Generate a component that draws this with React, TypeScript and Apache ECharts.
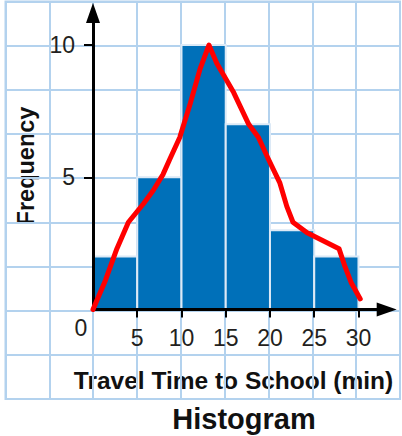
import React, { useEffect, useRef } from "react";
import * as echarts from "echarts";

// Histogram bins
const binStart = [0, 5, 10, 15, 20, 25];
const binEnd = [5, 10, 15, 20, 25, 30];
const frequency = [2, 5, 10, 7, 3, 2];

// Tick labels
const xTickValues = [5, 10, 15, 20, 25, 30];
const yTickValues = [5, 10];

// Hand-drawn red frequency polygon
const traceX = [0, 1.4, 2.7, 4.0, 5.7, 6.8, 7.9, 8.7, 9.8, 11.0, 12.1, 13.1, 14.0, 15.9, 17.6, 18.7, 19.8, 21.1, 21.9, 22.6, 24.2, 26.0, 27.8, 28.5, 29.2, 30.2];
const traceY = [0, 1.1, 2.3, 3.3, 4.0, 4.5, 5.1, 5.7, 6.5, 7.8, 9.1, 10.0, 9.3, 8.2, 7.0, 6.5, 5.7, 4.8, 3.9, 3.3, 2.9, 2.6, 2.3, 1.6, 1.0, 0.4];

const xTitle = "Travel Time to School (min)";
const yTitle = "Frequency";
const chartTitle = "Histogram";

const FONT = "'Liberation Sans', Arial, Helvetica, sans-serif";
const GRID_BLUE = "#b3d2ee";
const BAR_BLUE = "#0070b9";
const TEXT = "#231f20";

export default function App() {
  const ref = useRef<HTMLDivElement>(null);

  useEffect(() => {
    if (!ref.current) return;
    const chart = echarts.init(ref.current, undefined, { renderer: "svg" });

    const bars = binStart.map((s, i) => [s, binEnd[i], frequency[i]]);
    const trace = traceX.map((x, i) => [x, traceY[i]]);

    const option: any = {
      animation: false,
      backgroundColor: "#ffffff",
      grid: [
        {
          left: 5.5,
          top: 1.5,
          width: 394.5,
          height: 397.5,
          show: true,
          borderColor: GRID_BLUE,
          borderWidth: 2,
          backgroundColor: "transparent",
        },
        {
          left: 93,
          top: 13,
          right: 15.3,
          bottom: 126.5,
        },
      ],
      xAxis: [
        {
          type: "value",
          gridIndex: 0,
          min: 0,
          max: 9,
          interval: 1,
          axisLine: { show: false },
          axisTick: { show: false },
          axisLabel: { show: false },
          splitLine: { show: true, lineStyle: { color: GRID_BLUE, width: 2 } },
          z: 0,
        },
        {
          type: "value",
          gridIndex: 1,
          min: 0,
          max: 33.19,
          interval: 5,
          z: 5,
          axisLine: {
            show: true,
            lineStyle: { color: "#000", width: 3 },
            symbol: ["none", "triangle"],
            symbolSize: [14, 20],
          },
          axisTick: {
            show: true,
            customValues: xTickValues,
            length: 8,
            lineStyle: { color: "#000", width: 2 },
          },
          axisLabel: {
            show: true,
            customValues: xTickValues,
            margin: 17,
            fontSize: 23,
            fontFamily: FONT,
            color: TEXT,
          },
          splitLine: { show: false },
        },
      ],
      yAxis: [
        {
          type: "value",
          gridIndex: 0,
          min: 0,
          max: 9,
          interval: 1,
          axisLine: { show: false },
          axisTick: { show: false },
          axisLabel: { show: false },
          splitLine: { show: true, lineStyle: { color: GRID_BLUE, width: 2 } },
          z: 0,
        },
        {
          type: "value",
          gridIndex: 1,
          min: 0,
          max: 11.21,
          interval: 5,
          z: 5,
          axisLine: {
            show: true,
            lineStyle: { color: "#000", width: 3 },
            symbol: ["none", "triangle"],
            symbolSize: [14, 20],
          },
          axisTick: {
            show: true,
            customValues: yTickValues,
            length: 9,
            lineStyle: { color: "#000", width: 2 },
          },
          axisLabel: {
            show: true,
            customValues: yTickValues,
            margin: 18,
            fontSize: 23,
            fontFamily: FONT,
            color: TEXT,
          },
          splitLine: { show: false },
        },
      ],
      series: [
        {
          type: "custom",
          xAxisIndex: 1,
          yAxisIndex: 1,
          z: 2,
          data: bars,
          encode: { x: [0, 1], y: 2 },
          renderItem: (params: any, api: any) => {
            const p0 = api.coord([api.value(0), api.value(2)]);
            const p1 = api.coord([api.value(1), 0]);
            return {
              type: "rect",
              shape: {
                x: p0[0],
                y: p0[1],
                width: p1[0] - p0[0],
                height: p1[1] - p0[1],
              },
              style: { fill: BAR_BLUE, stroke: "#dce9f6", lineWidth: 2 },
            };
          },
        },
        {
          type: "line",
          xAxisIndex: 1,
          yAxisIndex: 1,
          z: 10,
          data: trace,
          smooth: false,
          symbol: "none",
          lineStyle: { color: "#ff0000", width: 5, cap: "round", join: "round" },
        },
      ],
      graphic: [
        {
          type: "text",
          x: 81,
          y: 328,
          style: {
            text: "0",
            fill: TEXT,
            font: `23px ${FONT}`,
            align: "center",
            verticalAlign: "middle",
          },
        },
        {
          type: "text",
          x: 26,
          y: 166,
          rotation: Math.PI / 2,
          style: {
            text: yTitle,
            fill: "#111",
            font: `bold 23.5px ${FONT}`,
            align: "center",
            verticalAlign: "middle",
          },
        },
        {
          type: "text",
          x: 233.5,
          y: 380,
          style: {
            text: xTitle,
            fill: "#111",
            font: `bold 24.5px ${FONT}`,
            align: "center",
            verticalAlign: "middle",
          },
        },
        {
          type: "text",
          x: 244,
          y: 419,
          style: {
            text: chartTitle,
            fill: "#111",
            font: `bold 29px ${FONT}`,
            align: "center",
            verticalAlign: "middle",
          },
        },
      ],
    };

    chart.setOption(option);
    return () => chart.dispose();
  }, []);

  return (
    <div
      ref={ref}
      style={{ position: "fixed", left: 0, top: 0, width: 402, height: 436, background: "#fff" }}
    />
  );
}
